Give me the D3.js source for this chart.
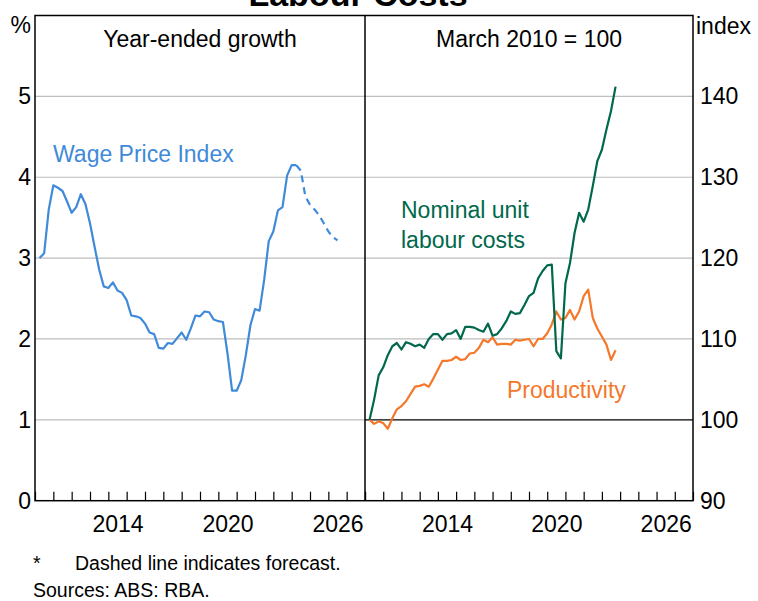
<!DOCTYPE html>
<html>
<head>
<meta charset="utf-8">
<script src="https://cdn.jsdelivr.net/npm/d3@7"></script>
<style>
  body { margin: 0; background: #fff; }
  text { font-family: Arial, "Liberation Sans", sans-serif; fill: #000; }
</style>
</head>
<body>
<div id="container"></div>
<script>
// quarterly data, first point = March quarter 2010
var startYear = 2010.25;
var wpiActual = [3.0, 3.06, 3.6, 3.9, 3.87, 3.83, 3.70, 3.56, 3.63, 3.79, 3.67, 3.43, 3.14, 2.86, 2.65, 2.63,
  2.70, 2.60, 2.57, 2.48, 2.29, 2.28, 2.26, 2.19, 2.08, 2.06, 1.89, 1.88, 1.95, 1.94, 2.01, 2.08,
  1.99, 2.13, 2.29, 2.28, 2.34, 2.33, 2.24, 2.22, 2.21, 1.82, 1.36, 1.36, 1.49, 1.80, 2.17, 2.37,
  2.35, 2.73, 3.21, 3.33, 3.59, 3.63, 4.02, 4.15, 4.15];
// forecast starts at the last actual quarter
var wpiForecast = [4.15, 4.08, 3.76, 3.66, 3.60, 3.53, 3.43, 3.33, 3.26, 3.22];
var nulc = [100, 102.5, 105.5, 106.5, 108.0, 109.1, 109.5, 108.7, 109.6, 109.4, 109.1, 109.3, 108.9, 110.0,
  110.6, 110.6, 109.9, 110.6, 110.7, 111.1, 110.0, 111.5, 111.5, 111.4, 111.1, 110.9, 111.9, 110.4,
  110.6, 111.3, 112.2, 113.4, 113.1, 113.2, 114.2, 115.3, 115.7, 117.5, 118.4, 119.1, 119.2, 108.5,
  107.6, 116.9, 119.4, 123.1, 125.6, 124.5, 126.0, 128.9, 132.0, 133.4, 135.9, 138.2, 141.2];
var productivity = [100.0, 99.5, 99.8, 99.6, 98.9, 100.2, 101.3, 101.7, 102.3, 103.2, 104.1, 104.2, 104.4,
  104.1, 105.1, 106.2, 107.3, 107.3, 107.4, 107.8, 107.4, 107.5, 108.2, 108.3, 108.9, 109.9, 109.6,
  110.2, 109.3, 109.4, 109.4, 109.3, 109.9, 109.8, 109.9, 110.0, 109.1, 110.0, 110.0, 110.7, 111.8,
  113.4, 112.4, 112.6, 113.6, 112.4, 113.4, 115.3, 116.1, 112.6, 111.3, 110.3, 109.3, 107.4, 108.6];

var leftTicks = [0, 1, 2, 3, 4, 5];
var rightTicks = [90, 100, 110, 120, 130, 140];
var yearLabels = [2014, 2020, 2026];
var yearDomain = [2010, 2028];

var colors = {wpi: "#3f8ad9", nulc: "#00684c", prod: "#f5782a", grid: "#bdbdbd"};

var width = 758, height = 601;
var plotTop = 15.5, plotBottom = 500.7;
var leftX = [35, 365], rightX = [365, 693];

var svg = d3.select("#container").append("svg")
  .attr("width", width)
  .attr("height", height);

var xLeft = d3.scaleLinear().domain(yearDomain).range(leftX);
var xRight = d3.scaleLinear().domain(yearDomain).range(rightX);
var yLeft = d3.scaleLinear().domain([0, 6]).range([plotBottom, plotTop]);
var yRight = d3.scaleLinear().domain([90, 150]).range([plotBottom, plotTop]);

function toPoints(values, offset){
  return values.map(function(v, i){ return {t: startYear + (offset + i) * 0.25, v: v}; });
}

// gridlines
svg.append("g").selectAll("line")
  .data(leftTicks.slice(1))
  .enter().append("line")
    .attr("x1", leftX[0]).attr("x2", leftX[1])
    .attr("y1", d => yLeft(d)).attr("y2", d => yLeft(d))
    .attr("stroke", colors.grid).attr("stroke-width", 1.2);
svg.append("g").selectAll("line")
  .data(rightTicks.slice(1))
  .enter().append("line")
    .attr("x1", rightX[0]).attr("x2", rightX[1])
    .attr("y1", d => yRight(d)).attr("y2", d => yRight(d))
    .attr("stroke", d => d == 100 ? "#000" : colors.grid)
    .attr("stroke-width", 1.2);

// year ticks and labels
function yearAxis(x){
  var years = d3.range(yearDomain[0], yearDomain[1] + 1);
  svg.append("g")
    .attr("transform", "translate(0," + plotBottom + ")")
    .call(d3.axisBottom(x).tickValues(years).tickSize(-9).tickFormat(""))
    .call(g => g.select(".domain").remove())
    .call(g => g.selectAll("line").attr("stroke", "#000").attr("stroke-width", 1.2));
  svg.append("g")
    .attr("transform", "translate(0," + plotBottom + ")")
    .call(d3.axisBottom(x).tickValues(yearLabels.map(d => d + 0.5)).tickSize(0).tickPadding(15)
      .tickFormat(d => Math.floor(d)))
    .call(g => g.select(".domain").remove())
    .selectAll("text").attr("font-size", 23).attr("font-family", null);
}
yearAxis(xLeft);
yearAxis(xRight);

// value axes
svg.append("g")
  .attr("transform", "translate(" + leftX[0] + ",0)")
  .call(d3.axisLeft(yLeft).tickValues(leftTicks).tickSize(0).tickPadding(4).tickFormat(d3.format("d")))
  .call(g => g.select(".domain").remove())
  .selectAll("text").attr("font-size", 23).attr("font-family", null);
svg.append("g")
  .attr("transform", "translate(" + rightX[1] + ",0)")
  .call(d3.axisRight(yRight).tickValues(rightTicks).tickSize(0).tickPadding(7).tickFormat(d3.format("d")))
  .call(g => g.select(".domain").remove())
  .selectAll("text").attr("font-size", 23).attr("font-family", null);

svg.append("text").attr("x", 31).attr("y", 33).attr("text-anchor", "end")
  .attr("font-size", 23).text("%");
svg.append("text").attr("x", 696).attr("y", 34)
  .attr("font-size", 23).text("index");

// lines
var lineL = d3.line().x(d => xLeft(d.t)).y(d => yLeft(d.v));
var lineR = d3.line().x(d => xRight(d.t)).y(d => yRight(d.v));

svg.append("path").datum(toPoints(wpiActual, 0))
  .attr("d", lineL).attr("fill", "none")
  .attr("stroke", colors.wpi).attr("stroke-width", 2.2).attr("stroke-linejoin", "round");
svg.append("path").datum(toPoints(wpiForecast, wpiActual.length - 1))
  .attr("d", lineL).attr("fill", "none")
  .attr("stroke", colors.wpi).attr("stroke-width", 2.2)
  .attr("stroke-dasharray", "7,5");
svg.append("path").datum(toPoints(productivity, 0))
  .attr("d", lineR).attr("fill", "none")
  .attr("stroke", colors.prod).attr("stroke-width", 2.2).attr("stroke-linejoin", "round");
svg.append("path").datum(toPoints(nulc, 0))
  .attr("d", lineR).attr("fill", "none")
  .attr("stroke", colors.nulc).attr("stroke-width", 2.2).attr("stroke-linejoin", "round");

// frame
svg.append("rect")
  .attr("x", leftX[0]).attr("y", plotTop)
  .attr("width", rightX[1] - leftX[0]).attr("height", plotBottom - plotTop)
  .attr("fill", "none").attr("stroke", "#000").attr("stroke-width", 1.5);
svg.append("line")
  .attr("x1", leftX[1]).attr("x2", leftX[1]).attr("y1", plotTop).attr("y2", plotBottom)
  .attr("stroke", "#000").attr("stroke-width", 1.5);

// titles and labels
svg.append("text").attr("x", 358).attr("y", 6).attr("text-anchor", "middle")
  .attr("font-size", 34).attr("font-weight", "bold").text("Labour Costs");
svg.append("text").attr("x", 200).attr("y", 47).attr("text-anchor", "middle")
  .attr("font-size", 23).text("Year-ended growth");
svg.append("text").attr("x", 529).attr("y", 47).attr("text-anchor", "middle")
  .attr("font-size", 23).text("March 2010 = 100");

svg.append("text").attr("x", 53).attr("y", 162)
  .attr("font-size", 23).style("fill", colors.wpi).text("Wage Price Index");
svg.append("text").attr("x", 401).attr("y", 218)
  .attr("font-size", 23).style("fill", colors.nulc).text("Nominal unit");
svg.append("text").attr("x", 401).attr("y", 248)
  .attr("font-size", 23).style("fill", colors.nulc).text("labour costs");
svg.append("text").attr("x", 507).attr("y", 398)
  .attr("font-size", 23).style("fill", colors.prod).text("Productivity");

// notes
svg.append("text").attr("x", 33).attr("y", 570).attr("font-size", 19.5).text("*");
svg.append("text").attr("x", 75).attr("y", 570).attr("font-size", 19.5).text("Dashed line indicates forecast.");
svg.append("text").attr("x", 33).attr("y", 597).attr("font-size", 19.5).text("Sources: ABS: RBA.");
</script>
</body>
</html>
